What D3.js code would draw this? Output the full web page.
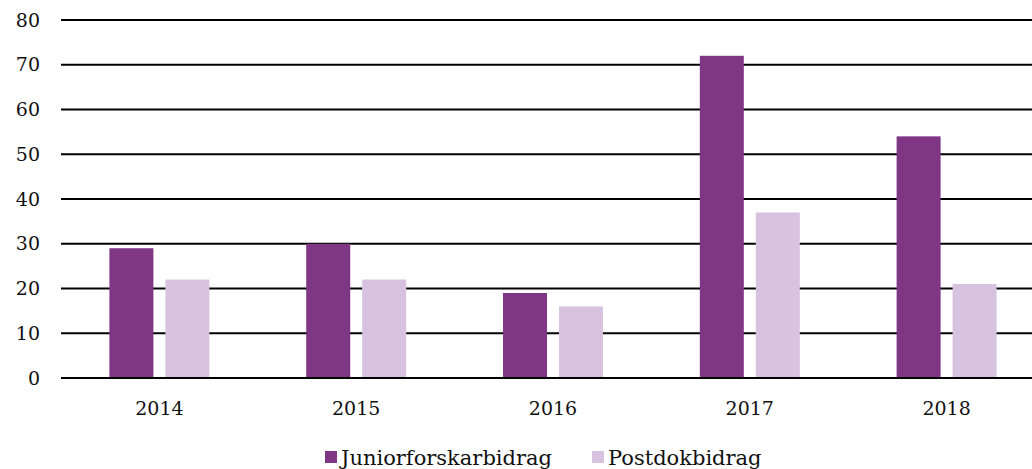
<!DOCTYPE html>
<html>
<head>
	<meta charset="utf-8">
	<title>Bidrag per år</title>
	<script src="https://cdn.jsdelivr.net/npm/d3@7"></script>
	<style>
		body {
			margin: 0;
			background: #fff;
		}
		svg text {
			font-family: "DejaVu Serif", "Liberation Serif", serif;
			fill: #111;
		}
	</style>
</head>
<body>
	<div id="chart"></div>
	<script>

		// data
		const years = ["2014", "2015", "2016", "2017", "2018"];
		const seriesNames = ["Juniorforskarbidrag", "Postdokbidrag"];
		const junior = [29, 30, 19, 72, 54];
		const postdok = [22, 22, 16, 37, 21];
		const yTicks = [0, 10, 20, 30, 40, 50, 60, 70, 80];

		const colors = ["#7f3685", "#d7c3e0"];

		const width = 1032;
		const height = 469;
		const margin = {top: 20, right: 0, bottom: 91, left: 61};

		const svg = d3.select("#chart")
			.append("svg")
			.attr("width", width)
			.attr("height", height);

		// the plot area runs a little past the right edge of the picture
		const x = d3.scaleBand()
			.domain(years)
			.range([margin.left, 1045])
			.paddingInner(0.492)
			.paddingOuter(0.246);

		const xSub = d3.scaleBand()
			.domain(seriesNames)
			.range([0, x.bandwidth()])
			.paddingInner(0.214);

		const y = d3.scaleLinear()
			.domain([0, 80])
			.range([height - margin.bottom, margin.top]);

		// gridlines
		svg.append("g")
			.selectAll("line")
			.data(yTicks)
			.join("line")
			.attr("x1", margin.left)
			.attr("x2", width - margin.right)
			.attr("y1", d => y(d))
			.attr("y2", d => y(d))
			.attr("stroke", "#000")
			.attr("stroke-width", 2);

		// y labels
		svg.append("g")
			.selectAll("text")
			.data(yTicks)
			.join("text")
			.attr("x", 40)
			.attr("y", d => y(d))
			.attr("dy", "0.35em")
			.attr("text-anchor", "end")
			.attr("font-size", 19)
			.text(d => d);

		// bars
		const rows = years.map((yr, i) => ({year: yr, values: [junior[i], postdok[i]]}));

		svg.append("g")
			.selectAll("g")
			.data(rows)
			.join("g")
			.attr("transform", d => `translate(${x(d.year)},0)`)
			.selectAll("rect")
			.data(d => d.values.map((v, j) => ({name: seriesNames[j], value: v, j})))
			.join("rect")
			.attr("x", d => xSub(d.name))
			.attr("width", xSub.bandwidth())
			.attr("y", d => y(d.value))
			.attr("height", d => y(0) - y(d.value))
			.attr("fill", d => colors[d.j]);

		// baseline on top of bars
		svg.append("line")
			.attr("x1", margin.left)
			.attr("x2", width - margin.right)
			.attr("y1", y(0))
			.attr("y2", y(0))
			.attr("stroke", "#000")
			.attr("stroke-width", 2);

		// x labels
		svg.append("g")
			.selectAll("text")
			.data(years)
			.join("text")
			.attr("x", d => x(d) + x.bandwidth() / 2)
			.attr("y", 415)
			.attr("text-anchor", "middle")
			.attr("font-size", 19)
			.text(d => d);

		// legend
		const legend = svg.append("g");
		const legendX = [325, 592];
		seriesNames.forEach((name, i) => {
			const g = legend.append("g").attr("transform", `translate(${legendX[i]},0)`);
			g.append("rect")
				.attr("x", 0)
				.attr("y", 451)
				.attr("width", 12)
				.attr("height", 12)
				.attr("fill", colors[i]);
			g.append("text")
				.attr("x", 16)
				.attr("y", 465)
				.attr("font-size", 21)
				.text(name);
		});

	</script>
</body>
</html>
